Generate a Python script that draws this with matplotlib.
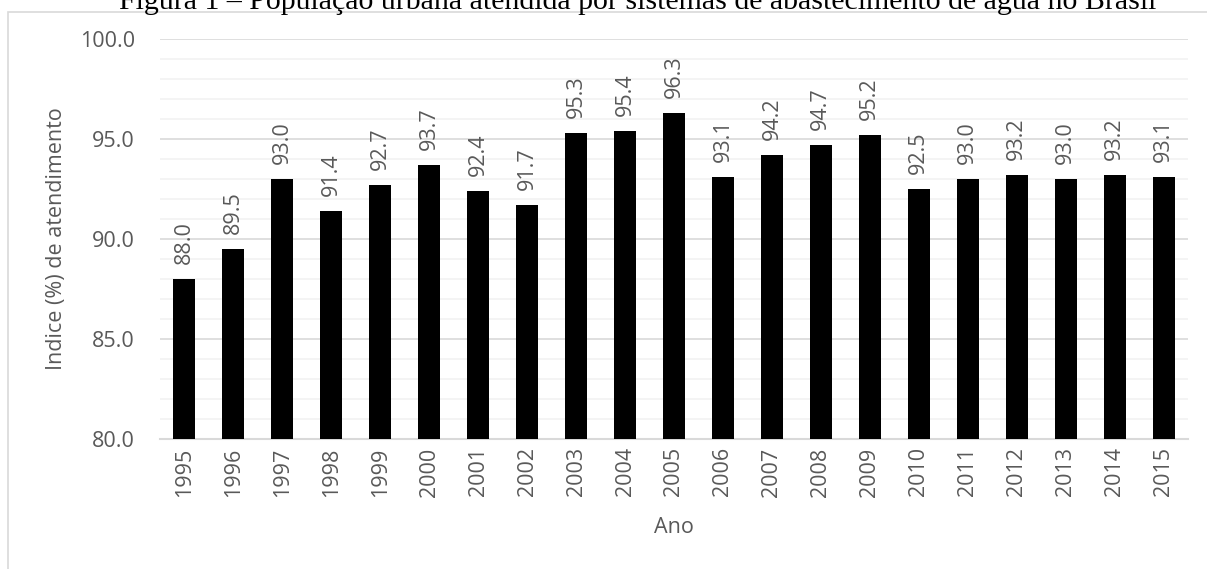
import matplotlib
matplotlib.use("Agg")
import matplotlib.pyplot as plt
import numpy as np
from matplotlib.patches import Rectangle

anos = ['1995', '1996', '1997', '1998', '1999', '2000', '2001', '2002', '2003', '2004', '2005',
        '2006', '2007', '2008', '2009', '2010', '2011', '2012', '2013', '2014', '2015']
indice = [88.0, 89.5, 93.0, 91.4, 92.7, 93.7, 92.4, 91.7, 95.3, 95.4, 96.3,
          93.1, 94.2, 94.7, 95.2, 92.5, 93.0, 93.2, 93.0, 93.2, 93.1]

cinza = '#595959'
plt.rcParams['font.family'] = ['Open Sans', 'DejaVu Sans']

fig = plt.figure(figsize=(12.07, 5.69), dpi=100)
fig.patches.append(Rectangle((8 / 1207, -0.1), 1.2, (569 - 12) / 569 + 0.1,
                             transform=fig.transFigure, fill=False,
                             edgecolor='#d9d9d9', linewidth=1.2))
fig.text(638 / 1207, 1.0 - 9 / 569,
         'Figura 1 – População urbana atendida por sistemas de abastecimento de água no Brasil',
         ha='center', va='baseline', fontsize=21.5, family=['Liberation Serif'], color='black')

ax = fig.add_axes([160 / 1207, 1 - 439 / 569, (1188 - 160) / 1207, (439 - 39) / 569])
x = np.arange(len(anos))
ax.bar(x, indice, width=0.45, color='black', zorder=3)
for xi, v in zip(x, indice):
    ax.annotate(f'{v:.1f}', (xi, v), xytext=(0, 11), textcoords='offset points',
                rotation=90, ha='center', va='bottom', fontsize=15.5, color=cinza)

ax.set_ylim(80, 100)
ax.set_xlim(-0.5, len(anos) - 0.5)
ax.set_yticks(np.arange(80, 100.1, 5))
ax.set_yticklabels([f'{t:.1f}' for t in np.arange(80, 100.1, 5)])
ax.set_yticks(np.arange(80, 100.1, 1), minor=True)
ax.grid(axis='y', which='major', color='#d9d9d9', linewidth=1.2, zorder=0)
ax.grid(axis='y', which='minor', color='#f2f2f2', linewidth=1.2, zorder=0)
ax.set_xticks(x)
ax.set_xticklabels(anos, rotation=90)
ax.tick_params(axis='both', which='both', length=0, labelsize=15.5, labelcolor=cinza)
ax.tick_params(axis='x', pad=6)
ax.tick_params(axis='y', pad=18)
for s in ['top', 'right', 'left']:
    ax.spines[s].set_visible(False)
ax.spines['bottom'].set_color('#d9d9d9')
ax.spines['bottom'].set_linewidth(1.5)
ax.set_xlabel('Ano', fontsize=15.5, color=cinza)
ax.set_ylabel('Indice (%) de atendimento', fontsize=15.5, color=cinza)
ax.xaxis.set_label_coords(0.5, -0.195)
ax.yaxis.set_label_coords(-0.09, 0.5)

fig.savefig('out.png', dpi=100)
